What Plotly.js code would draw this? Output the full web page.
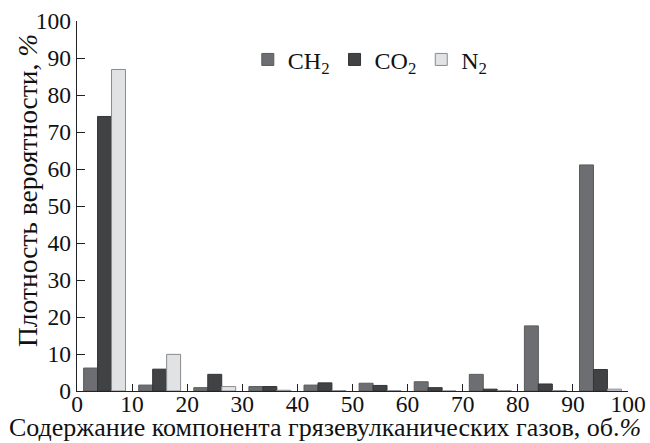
<!DOCTYPE html>
<html>
<head>
<meta charset="utf-8">
<script src="https://cdn.plot.ly/plotly-3.0.1.min.js"></script>
<style>html,body{margin:0;padding:0;background:#fff;}#chart{width:650px;height:443px;}</style>
</head>
<body>
<div id="chart"></div>
<script>
// Bin centers (bins of width 10, об.%)
const binCenters = [5, 15, 25, 35, 45, 55, 65, 75, 85, 95];
const seriesNames = ['CH<sub>2</sub>', 'CO<sub>2</sub>', 'N<sub>2</sub>'];
const ch2 = [6.2, 1.6, 0.9, 1.2, 1.6, 2.1, 2.5, 4.5, 17.6, 61.1];
const co2 = [74.2, 5.9, 4.5, 1.2, 2.2, 1.5, 0.9, 0.5, 1.9, 5.8];
const n2  = [86.9, 9.9, 1.2, 0.2, 0.1, 0.1, 0.0, 0.1, 0.1, 0.5];
const xTicks = [0, 10, 20, 30, 40, 50, 60, 70, 80, 90, 100];
const yTicks = [0, 10, 20, 30, 40, 50, 60, 70, 80, 90, 100];
const xTitle = 'Содержание компонента грязевулканических газов, об.<i>%</i>';
const yTitle = 'Плотность вероятности, <i>%</i>';

const colors = ['#6d6e71', '#414244', '#e1e2e4'];
const lineColors = ['#5a5b5e', '#333436', '#8a8b8d'];
const vals = [ch2, co2, n2];

const traces = vals.map((v, i) => ({
  type: 'bar',
  x: binCenters,
  y: v,
  name: seriesNames[i],
  marker: {color: colors[i], line: {color: lineColors[i], width: 1}}
}));

const fam = 'Liberation Serif, Times New Roman, serif';
const tickFont = {family: fam, size: 23.5, color: '#111'};
const titleFont = {family: fam, size: 26, color: '#111'};
const legFont = {family: fam, size: 24, color: '#111'};

const layout = {
  width: 650, height: 443,
  margin: {l: 77, r: 22, t: 21, b: 52},
  paper_bgcolor: '#fff', plot_bgcolor: '#fff',
  font: tickFont,
  barmode: 'group',
  bargap: 0.24,
  bargroupgap: 0,
  showlegend: true,
  legend: {
    orientation: 'h', x: 0.31, y: 0.895, xanchor: 'left', yanchor: 'middle',
    font: legFont, bgcolor: 'rgba(0,0,0,0)', itemwidth: 30, tracegroupgap: 0
  },
  xaxis: {
    range: [0, 100], tickvals: xTicks, ticktext: xTicks.map(String),
    ticks: 'inside', ticklen: 7, tickwidth: 1, tickcolor: '#222',
    showline: true, linecolor: '#222', linewidth: 1.2,
    showgrid: false, zeroline: false,
    tickfont: tickFont, ticklabelstandoff: -8,
    automargin: false
  },
  yaxis: {
    range: [0, 100], tickvals: yTicks, ticktext: yTicks.map(String),
    ticks: 'inside', ticklen: 8, tickwidth: 1, tickcolor: '#222',
    showline: true, linecolor: '#222', linewidth: 1.2,
    showgrid: false, zeroline: false,
    tickfont: tickFont, ticklabelstandoff: 0,
    automargin: false
  },
  annotations: [{
    text: xTitle, xref: 'paper', yref: 'paper',
    x: (325 - 77) / 551, y: (391 - 443) / 370, xanchor: 'center', yanchor: 'bottom',
    showarrow: false, font: titleFont, borderpad: 0
  }, {
    text: yTitle, xref: 'paper', yref: 'paper', textangle: -90,
    x: (27 - 77) / 551, y: (391 - 191) / 370, xanchor: 'center', yanchor: 'middle',
    showarrow: false, font: {family: fam, size: 27.5, color: '#111'}, borderpad: 0
  }]
};

Plotly.newPlot('chart', traces, layout, {displayModeBar: false, staticPlot: true});
</script>
</body>
</html>
